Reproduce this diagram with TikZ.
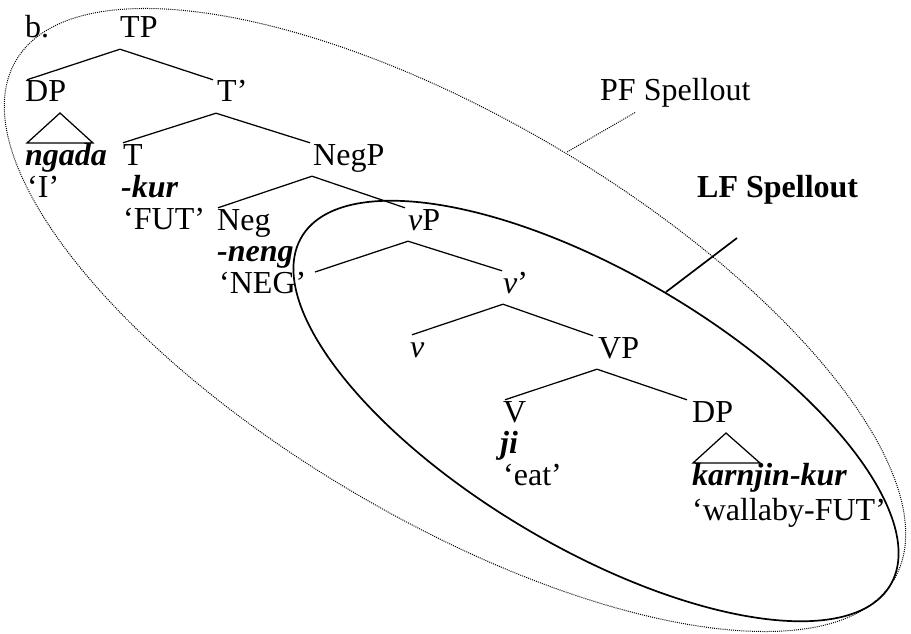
\documentclass[tikz,border=0pt]{standalone}
\usepackage{fontspec}
\setmainfont{Liberation Serif}
\begin{document}
\begin{tikzpicture}[x=1pt,y=-1pt,
  lab/.style={anchor=base west, inner sep=0pt, text height=22pt, text depth=11pt, font=\fontsize{32}{34}\selectfont},
  br/.style={line width=1.25pt, line join=miter},
  pfline/.style={line width=1pt, dash pattern=on 1pt off 1.1pt},
  lfline/.style={line width=1.7pt}]
\useasboundingbox (0,0) rectangle (911,634);

% zones
\draw[pfline, rotate around={-30.6:(455,320)}] (455,320) ellipse [x radius=510, y radius=200];
\draw[lfline, rotate around={-30.6:(596,411)}] (596,411) ellipse [x radius=342, y radius=137];

% labels
\node[lab] (b) at (25,38) {b.};
\node[lab] (TP) at (120,38) {TP};
\node[lab] (DP1) at (25,102) {DP};
\node[lab] (Tb) at (217,102) {T’};
\node[lab] (ngada) at (25,165) {\textbf{\textit{ngada}}};
\node[lab] (I) at (27,197) {‘I’};
\node[lab] (T) at (123,165) {T};
\node[lab] (kur) at (121,197) {\textbf{\textit{-kur}}};
\node[lab] (FUT) at (123,229) {‘FUT’};
\node[lab] (NegP) at (313,165) {NegP};
\node[lab] (Neg) at (217,230) {Neg};
\node[lab] (neng) at (217,261) {\textbf{\textit{-neng}}};
\node[lab] (NEG) at (219,293) {‘NEG’};
\node[lab] (vP) at (408,230) {\textit{v}P};
\node[lab] (vb) at (503,293) {\textit{v}’};
\node[lab] (v) at (410,357) {\textit{v}};
\node[lab] (VP) at (598,358) {VP};
\node[lab] (V) at (503,422) {V};
\node[lab] (DP2) at (692,422) {DP};
\node[lab] (ji) at (500,453) {\textbf{\textit{ji}}};
\node[lab] (eat) at (503,485) {‘eat’};
\node[lab] (karn) at (692,485) {\textbf{\textit{karnjin-kur}}};
\node[lab] (wall) at (692,520) {‘wallaby-FUT’};
\node[lab] (PF) at (600,100) {PF Spellout};
\node[lab] (LF) at (697,197) {\textbf{LF Spellout}};

% branches
\coordinate (vspec) at (315,272);
\draw[br] ([xshift=2pt]DP1.north west) -- (TP.south west) -- ([xshift=-4pt]Tb.north west);
\draw[br] (T.north west) -- ([xshift=-1pt]Tb.south west) -- ([xshift=-3pt]NegP.north west);
\draw[br] ([xshift=1pt]Neg.north west) -- ([xshift=-1pt]NegP.south west) -- ([xshift=-3pt]vP.north west);
\draw[br] (vspec) -- (vP.south west) -- ([xshift=-1pt]vb.north west);
\draw[br] ([xshift=2pt]v.north west) -- (vb.south west) -- ([xshift=-5pt]VP.north west);
\draw[br] ([xshift=2pt]V.north west) -- ([xshift=-1pt]VP.south west) -- ([xshift=-5pt]DP2.north west);

% triangles
\coordinate (t1a) at (60,113);
\coordinate (t1l) at (27,143);
\coordinate (t1r) at (93,143);
\draw[br] (t1a) -- (t1l) -- (t1r) -- cycle;
\coordinate (t2a) at (726,433);
\coordinate (t2l) at (693,463);
\coordinate (t2r) at (760,463);
\draw[br] (t2a) -- (t2l) -- (t2r) -- cycle;

% leaders
\coordinate (pfA) at (567,152);
\coordinate (pfB) at (636,112);
\draw[pfline] (pfA) -- (pfB);
\coordinate (lfA) at (666,292);
\coordinate (lfB) at (737,238);
\draw[lfline] (lfA) -- (lfB);
\end{tikzpicture}
\end{document}
